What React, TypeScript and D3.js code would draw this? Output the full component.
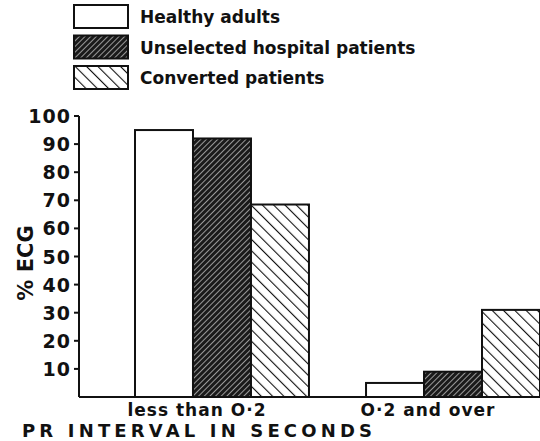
import React, { useEffect, useRef } from 'react';
import * as d3 from 'd3';

const groups = ['less than O·2', 'O·2 and over'];
const series = ['Healthy adults', 'Unselected hospital patients', 'Converted patients'];
const healthy = [95, 5];
const unselected = [92, 9];
const converted = [68.5, 31];
const yTicks = [10, 20, 30, 40, 50, 60, 70, 80, 90, 100];

const W = 540;
const H = 441;
const FONT = '"DejaVu Sans", sans-serif';
const INK = '#111';

const App = () => {
  const ref = useRef<SVGSVGElement>(null);

  useEffect(() => {
    const svg = d3.select(ref.current).attr('width', W).attr('height', H);
    svg.selectAll('*').remove();

    const defs = svg.append('defs');
    // dark fill with fine light hatching
    const p1 = defs.append('pattern')
      .attr('id', 'darkHatch')
      .attr('patternUnits', 'userSpaceOnUse')
      .attr('width', 4).attr('height', 4)
      .attr('patternTransform', 'rotate(45)');
    p1.append('rect').attr('width', 4).attr('height', 4).attr('fill', '#1a1a1a');
    p1.append('line').attr('x1', 0).attr('y1', 0).attr('x2', 0).attr('y2', 4)
      .attr('stroke', '#ddd').attr('stroke-width', 1.3);

    // white fill with heavy backward hatching
    const p2 = defs.append('pattern')
      .attr('id', 'lightHatch')
      .attr('patternUnits', 'userSpaceOnUse')
      .attr('width', 8).attr('height', 8)
      .attr('patternTransform', 'rotate(-45)');
    p2.append('rect').attr('width', 8).attr('height', 8).attr('fill', '#fff');
    p2.append('line').attr('x1', 0).attr('y1', 0).attr('x2', 0).attr('y2', 8)
      .attr('stroke', INK).attr('stroke-width', 2.2);

    const fills = ['#fff', 'url(#darkHatch)', 'url(#lightHatch)'];
    const values = [healthy, unselected, converted];

    const y = d3.scaleLinear().domain([0, 100]).range([397, 116]);
    const x0 = d3.scaleBand<string>().domain(groups).range([135, 540]).paddingInner(0.247).paddingOuter(0);
    const x1 = d3.scaleBand<string>().domain(series).range([0, x0.bandwidth()]);

    // bars
    groups.forEach((g, gi) => {
      series.forEach((s, si) => {
        const v = values[si][gi];
        svg.append('rect')
          .attr('x', x0(g)! + x1(s)!)
          .attr('y', y(v))
          .attr('width', x1.bandwidth())
          .attr('height', y(0) - y(v))
          .attr('fill', fills[si])
          .attr('stroke', INK)
          .attr('stroke-width', 2);
      });
    });

    // axes
    const axisX = 79;
    svg.append('line')
      .attr('x1', axisX).attr('x2', axisX)
      .attr('y1', y(100)).attr('y2', y(0))
      .attr('stroke', INK).attr('stroke-width', 2);
    svg.append('line')
      .attr('x1', axisX).attr('x2', W)
      .attr('y1', y(0)).attr('y2', y(0))
      .attr('stroke', INK).attr('stroke-width', 2);

    const tk = svg.append('g');
    yTicks.forEach((t) => {
      tk.append('line')
        .attr('x1', axisX - 5).attr('x2', axisX)
        .attr('y1', y(t)).attr('y2', y(t))
        .attr('stroke', INK).attr('stroke-width', 2);
      tk.append('text')
        .attr('x', axisX - 8)
        .attr('y', y(t) + 7)
        .attr('text-anchor', 'end')
        .attr('font-family', FONT)
        .attr('font-weight', 'bold')
        .attr('font-size', 19)
        .attr('letter-spacing', 1)
        .attr('fill', INK)
        .text(t);
    });

    svg.append('text')
      .attr('transform', `translate(33, 263) rotate(-90)`)
      .attr('text-anchor', 'middle')
      .attr('font-family', FONT)
      .attr('font-weight', 'bold')
      .attr('font-size', 21)
      .attr('fill', INK)
      .text('% ECG');

    // group labels
    groups.forEach((g) => {
      svg.append('text')
        .attr('x', x0(g)! + x1.bandwidth() + 4)
        .attr('y', 416)
        .attr('text-anchor', 'middle')
        .attr('font-family', FONT)
        .attr('font-weight', 'bold')
        .attr('font-size', 17)
        .attr('letter-spacing', 1)
        .attr('fill', INK)
        .text(g);
    });

    svg.append('text')
      .attr('x', 22)
      .attr('y', 437)
      .attr('font-family', FONT)
      .attr('font-weight', 'bold')
      .attr('font-size', 18)
      .attr('textLength', 350)
      .attr('lengthAdjust', 'spacing')
      .attr('fill', INK)
      .text('PR INTERVAL IN SECONDS');

    // legend
    const leg = svg.append('g').attr('transform', 'translate(74, 5)');
    series.forEach((s, i) => {
      const row = leg.append('g').attr('transform', `translate(0, ${i * 30.5})`);
      row.append('rect')
        .attr('width', 54).attr('height', 23)
        .attr('fill', fills[i])
        .attr('stroke', INK)
        .attr('stroke-width', 2);
      row.append('text')
        .attr('x', 66)
        .attr('y', 18)
        .attr('font-family', FONT)
        .attr('font-weight', 'bold')
        .attr('font-size', 17)
        .attr('fill', INK)
        .text(s);
    });
  }, []);

  return <svg ref={ref} style={{ position: 'absolute', left: 0, top: 0 }}></svg>;
};

export default App;
